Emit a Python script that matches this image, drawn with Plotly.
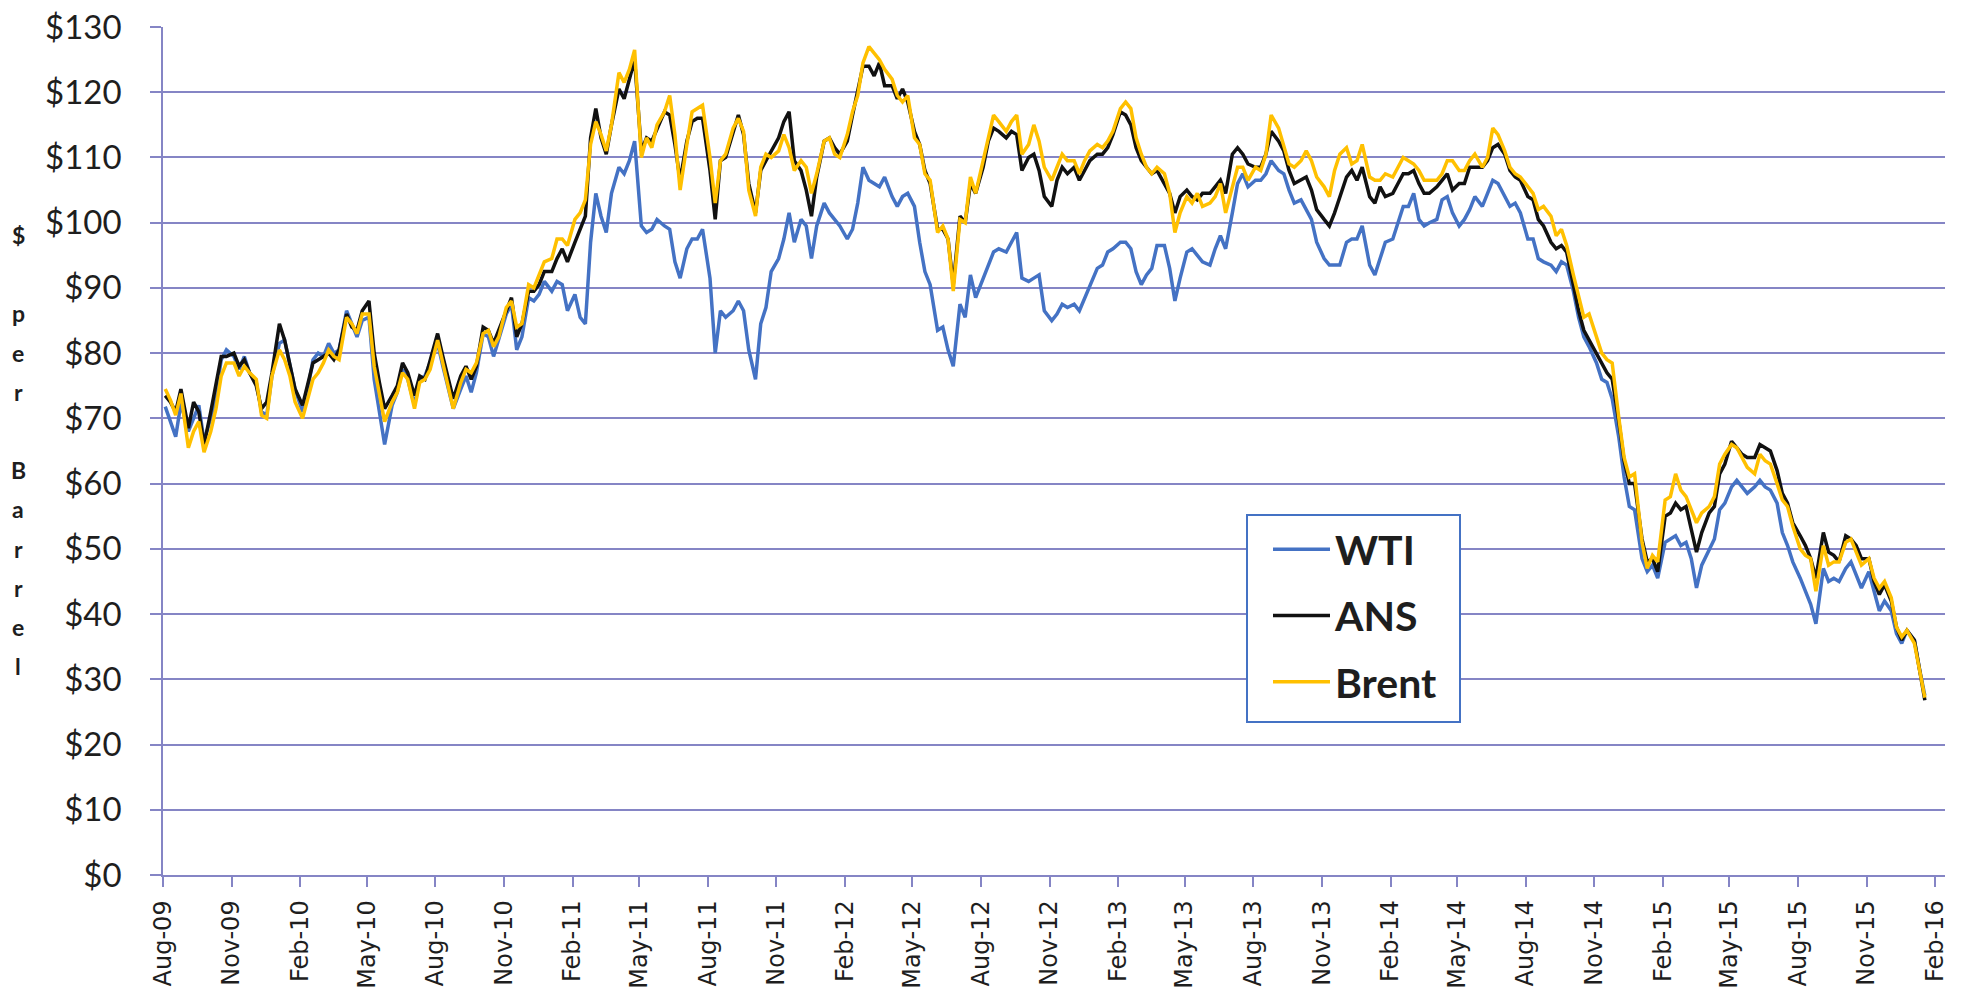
import pandas as pd
import plotly.graph_objects as go

# ---------------- data: weekly readings ($/barrel), one inner list per month
# (readings at roughly the 4th, 11th, 18th and 25th of each month)
wti_2009 = [[71.8, 69.5, 67.2, 72.3], [68.0, 70.0, 72.0, 66.5], [70.0, 73.5, 79.0, 80.5],
            [79.5, 77.5, 79.5, 77.0], [75.5, 71.0, 70.5, 76.5]]
wti_2010 = [[81.5, 82.0, 78.0, 74.5], [71.0, 74.5, 79.0, 80.0], [79.5, 81.5, 80.0, 80.5],
            [86.5, 84.5, 82.5, 85.0], [85.5, 76.0, 71.0, 66.0], [72.0, 74.0, 77.5, 76.0],
            [72.0, 76.0, 76.5, 78.5], [81.5, 78.0, 74.5, 71.5], [74.5, 76.5, 74.0, 77.0],
            [83.0, 82.5, 79.5, 82.0], [86.0, 87.5, 80.5, 82.5], [88.5, 88.0, 89.0, 91.0]]
wti_2011 = [[89.5, 91.0, 90.5, 86.5], [89.0, 85.5, 84.5, 97.0], [104.5, 101.0, 98.5, 104.5],
            [108.5, 107.5, 109.5, 112.5], [99.5, 98.5, 99.0, 100.5], [99.5, 99.0, 94.0, 91.5],
            [96.0, 97.5, 97.5, 99.0], [91.5, 80.0, 86.5, 85.5], [86.5, 88.0, 86.5, 80.5],
            [76.0, 84.5, 87.0, 92.5], [94.5, 97.5, 101.5, 97.0], [100.5, 99.5, 94.5, 99.5]]
wti_2012 = [[103.0, 101.5, 100.5, 99.5], [97.5, 99.0, 103.0, 108.5], [106.5, 106.0, 105.5, 107.0],
            [104.0, 102.5, 104.0, 104.5], [102.5, 97.0, 92.5, 90.5], [83.5, 84.0, 80.5, 78.0],
            [87.5, 85.5, 92.0, 88.5], [91.5, 93.5, 95.5, 96.0], [95.5, 97.0, 98.5, 91.5],
            [91.0, 91.5, 92.0, 86.5], [85.0, 86.0, 87.5, 87.0], [87.5, 86.5, 88.5, 90.5]]
wti_2013 = [[93.0, 93.5, 95.5, 96.0], [97.0, 97.0, 96.0, 92.5], [90.5, 92.0, 93.0, 96.5],
            [96.5, 93.0, 88.0, 91.5], [95.5, 96.0, 95.0, 94.0], [93.5, 96.0, 98.0, 96.0],
            [101.5, 106.0, 107.5, 105.5], [106.5, 106.5, 107.5, 109.5], [108.0, 107.5, 105.0, 103.0],
            [103.5, 102.0, 100.5, 97.0], [94.5, 93.5, 93.5, 93.5], [97.0, 97.5, 97.5, 99.5]]
wti_2014 = [[93.5, 92.0, 94.5, 97.0], [97.5, 100.0, 102.5, 102.5], [104.5, 100.5, 99.5, 100.0],
            [100.5, 103.5, 104.0, 101.5], [99.5, 100.5, 102.0, 104.0], [102.5, 104.5, 106.5, 106.0],
            [104.0, 102.5, 103.0, 101.5], [97.5, 97.5, 94.5, 94.0], [93.5, 92.5, 94.0, 93.5],
            [89.5, 85.5, 82.5, 81.0], [78.5, 76.0, 75.5, 73.0], [67.0, 61.0, 56.5, 56.0]]
wti_2015 = [[48.5, 46.5, 47.5, 45.5], [51.0, 51.5, 52.0, 50.5], [51.0, 48.5, 44.0, 47.5],
            [50.0, 51.5, 56.0, 57.0], [59.5, 60.5, 59.5, 58.5], [59.5, 60.5, 59.5, 59.0],
            [57.0, 52.5, 50.5, 48.0], [45.5, 43.5, 41.5, 38.5], [47.0, 45.0, 45.5, 45.0],
            [47.0, 48.0, 46.0, 44.0], [46.5, 43.5, 40.5, 42.0], [40.5, 37.0, 35.5, 37.5]]
wti_2016 = [[36.0, 31.5, 27.5]]

ans_2009 = [[73.5, 72.5, 71.0, 74.5], [68.5, 72.5, 71.0, 66.0], [71.0, 75.0, 79.5, 79.5],
            [80.0, 78.0, 79.0, 77.0], [75.0, 71.5, 72.5, 77.0]]
ans_2010 = [[84.5, 82.0, 78.5, 74.5], [72.0, 75.5, 78.5, 79.0], [79.5, 80.0, 79.0, 80.5],
            [86.0, 84.0, 83.5, 86.5], [88.0, 80.0, 75.5, 71.5], [73.5, 75.0, 78.5, 77.0],
            [73.5, 76.5, 76.0, 79.0], [83.0, 79.5, 76.0, 73.0], [76.5, 78.0, 76.0, 78.0],
            [84.0, 83.5, 81.5, 83.5], [86.5, 88.5, 82.5, 84.5], [89.5, 89.5, 90.5, 92.5]]
ans_2011 = [[92.5, 94.5, 96.0, 94.0], [97.0, 99.0, 101.0, 113.0], [117.5, 113.0, 110.5, 115.0],
            [120.5, 119.0, 122.0, 125.0], [111.0, 113.0, 112.5, 114.5], [117.0, 116.5, 112.0, 106.5],
            [112.5, 115.5, 116.0, 116.0], [108.0, 100.5, 109.5, 110.0], [114.0, 116.5, 113.5, 106.0],
            [101.5, 108.0, 109.5, 111.0], [113.0, 115.5, 117.0, 109.5], [108.0, 105.0, 101.0, 107.0]]
ans_2012 = [[112.5, 113.0, 111.5, 110.5], [112.5, 116.5, 120.5, 124.0], [124.0, 122.5, 124.5, 121.0],
            [121.0, 119.0, 120.5, 118.5], [114.0, 112.0, 108.0, 106.0], [99.0, 99.0, 97.5, 90.5],
            [101.0, 100.0, 106.0, 104.5], [108.5, 112.5, 114.5, 114.0], [113.0, 114.0, 113.5, 108.0],
            [110.0, 110.5, 108.0, 104.0], [102.5, 106.5, 108.5, 107.5], [108.5, 106.5, 108.0, 109.5]]
ans_2013 = [[110.5, 110.5, 111.5, 113.5], [117.0, 116.5, 115.0, 111.5], [109.5, 108.5, 107.5, 108.0],
            [106.0, 104.5, 101.5, 104.0], [105.0, 104.0, 103.5, 104.5], [104.5, 105.5, 106.5, 104.5],
            [110.5, 111.5, 110.5, 109.0], [108.5, 108.5, 110.5, 114.0], [112.5, 111.0, 108.0, 106.0],
            [106.5, 107.0, 105.0, 102.0], [100.5, 99.5, 101.5, 104.0], [107.0, 108.0, 106.5, 108.5]]
ans_2014 = [[104.0, 103.0, 105.5, 104.0], [104.5, 106.0, 107.5, 107.5], [108.0, 106.0, 104.5, 104.5],
            [105.5, 106.5, 107.5, 105.0], [106.0, 106.0, 108.5, 108.5], [108.5, 109.5, 111.5, 112.0],
            [110.5, 108.0, 107.0, 106.5], [104.0, 103.5, 100.5, 99.5], [97.0, 96.0, 96.5, 95.5],
            [90.5, 86.5, 83.5, 82.0], [80.0, 78.5, 77.0, 76.0], [69.5, 63.5, 60.0, 60.0]]
ans_2015 = [[51.5, 48.0, 48.5, 46.5], [55.0, 55.5, 57.0, 56.0], [56.5, 53.0, 49.5, 52.5],
            [55.5, 56.5, 61.5, 63.0], [66.5, 65.5, 64.5, 64.0], [64.0, 66.0, 65.5, 65.0],
            [62.0, 58.5, 57.0, 54.0], [52.0, 50.5, 48.5, 45.5], [52.5, 49.5, 49.0, 48.0],
            [52.0, 51.5, 50.5, 48.5], [48.5, 45.0, 43.0, 44.5], [42.0, 38.0, 36.0, 37.5]]
ans_2016 = [[36.0, 31.5, 26.8]]

brent_2009 = [[74.5, 72.8, 70.5, 73.8], [65.5, 68.0, 69.5, 64.8], [68.0, 71.5, 76.5, 78.5],
              [78.5, 76.5, 78.0, 77.0], [76.0, 70.5, 70.0, 76.5]]
brent_2010 = [[80.5, 79.0, 76.5, 72.5], [70.0, 73.0, 76.0, 77.0], [78.5, 80.5, 79.5, 79.0],
              [85.5, 84.5, 83.0, 86.0], [86.0, 78.0, 74.0, 69.5], [72.5, 74.0, 77.0, 76.0],
              [71.5, 75.5, 76.0, 77.5], [82.0, 78.5, 75.0, 71.5], [75.5, 77.5, 77.0, 78.5],
              [83.0, 83.5, 81.0, 82.5], [87.0, 88.0, 84.0, 84.5], [90.5, 90.0, 92.0, 94.0]]
brent_2011 = [[94.5, 97.5, 97.5, 96.5], [100.5, 101.5, 103.5, 112.0], [115.5, 113.5, 111.0, 115.0],
              [123.0, 121.5, 123.5, 126.5], [110.0, 113.0, 111.5, 115.0], [117.0, 119.5, 113.5, 105.0],
              [112.0, 117.0, 117.5, 118.0], [110.0, 103.0, 109.5, 110.5], [114.5, 116.0, 114.0, 105.0],
              [101.0, 108.5, 110.5, 110.0], [111.0, 113.5, 111.5, 108.0], [109.5, 108.5, 104.5, 107.5]]
brent_2012 = [[112.5, 113.0, 110.5, 110.0], [113.5, 117.0, 119.5, 124.5], [127.0, 126.0, 125.0, 123.5],
              [122.0, 119.5, 118.5, 119.5], [113.0, 112.0, 107.5, 106.5], [98.5, 99.5, 97.5, 89.5],
              [100.5, 100.0, 107.0, 104.5], [109.5, 113.5, 116.5, 115.5], [114.0, 115.5, 116.5, 110.5],
              [112.0, 115.0, 112.5, 108.5], [106.5, 108.5, 110.5, 109.5], [109.5, 107.5, 109.5, 111.0]]
brent_2013 = [[112.0, 111.5, 112.5, 114.0], [117.5, 118.5, 117.5, 113.0], [110.5, 108.5, 107.5, 108.5],
              [107.5, 104.5, 98.5, 101.5], [104.0, 103.0, 104.5, 102.5], [103.0, 104.0, 106.0, 101.5],
              [105.5, 108.5, 108.5, 106.5], [108.5, 108.0, 110.5, 116.5], [114.5, 111.5, 109.0, 108.5],
              [109.5, 111.0, 109.5, 107.0], [105.5, 104.0, 108.0, 110.5], [111.5, 109.0, 109.5, 112.0]]
brent_2014 = [[107.0, 106.5, 106.5, 107.5], [107.0, 108.5, 110.0, 109.5], [109.0, 108.0, 106.5, 106.5],
              [106.5, 107.5, 109.5, 109.5], [108.0, 108.0, 109.5, 110.5], [108.5, 110.0, 114.5, 113.5],
              [111.0, 108.5, 107.5, 107.0], [105.5, 104.5, 102.0, 102.5], [101.0, 98.0, 99.0, 96.5],
              [92.0, 88.5, 85.5, 86.0], [82.5, 80.0, 79.0, 78.5], [70.0, 64.0, 61.0, 61.5]]
brent_2015 = [[51.0, 47.0, 49.0, 48.0], [57.5, 58.0, 61.5, 59.0], [58.0, 56.0, 54.0, 55.5],
              [56.5, 58.0, 63.0, 64.5], [66.0, 65.5, 64.0, 62.5], [61.5, 64.5, 63.5, 63.0],
              [60.0, 57.5, 56.5, 53.5], [50.0, 49.0, 48.5, 43.5], [50.5, 47.5, 48.0, 48.0],
              [51.0, 51.5, 49.5, 47.5], [48.5, 45.5, 44.0, 45.0], [42.5, 38.0, 36.5, 37.5]]
brent_2016 = [[35.5, 31.0, 27.2]]

series_names = ["WTI", "ANS", "Brent"]
series_colors = ["#4472C4", "#111111", "#FFC000"]
years = [2009, 2010, 2011, 2012, 2013, 2014, 2015, 2016]
first_month = {2009: 8}

y_title_letters = ["$", "", "p", "e", "r", "", "B", "a", "r", "r", "e", "l"]


def flatten(year_blocks):
    xs, ys = [], []
    for year, months in zip(years, year_blocks):
        m0 = first_month.get(year, 1)
        for i, vals in enumerate(months):
            base = pd.Timestamp(year=year, month=m0 + i, day=1)
            for k, v in enumerate(vals):
                xs.append(base + pd.Timedelta(days=3 + 7 * k))
                ys.append(v)
    return xs, ys


blocks = {
    "WTI": [wti_2009, wti_2010, wti_2011, wti_2012, wti_2013, wti_2014, wti_2015, wti_2016],
    "ANS": [ans_2009, ans_2010, ans_2011, ans_2012, ans_2013, ans_2014, ans_2015, ans_2016],
    "Brent": [brent_2009, brent_2010, brent_2011, brent_2012, brent_2013, brent_2014, brent_2015, brent_2016],
}

GRID = "#8585C5"
TEXT = "#1e1e1e"
LEGEND_BORDER = "#4472C4"

fig = go.Figure()
for name, color in zip(series_names, series_colors):
    xs, ys = flatten(blocks[name])
    fig.add_trace(go.Scatter(x=xs, y=ys, mode="lines", name=name,
                             line=dict(color=color, width=3.5), legendgroup=name))

# layout geometry: target pixel positions in the 1969x1003 window
# (the html body margin is removed by a post script, so figure == window)
W, H = 1969, 1003
PLOT_L, PLOT_R, PLOT_T, PLOT_B = 163, 1945, 27, 875
L, T, R, B = PLOT_L, PLOT_T, W - PLOT_R, H - PLOT_B
plot_w, plot_h = PLOT_R - PLOT_L, PLOT_B - PLOT_T


def px_x(x):
    return (x - PLOT_L) / plot_w


def px_y(y):
    return (PLOT_B - y) / plot_h


annotations = []
for i, ch in enumerate(y_title_letters):
    if not ch:
        continue
    annotations.append(dict(
        text=ch, xref="paper", yref="paper",
        x=px_x(18), y=px_y(235 + i * 39.2),
        xanchor="center", yanchor="middle", showarrow=False,
        font=dict(family="Lato", size=23, color=TEXT, weight="bold")))

legend_box = dict(type="rect", xref="paper", yref="paper",
                  x0=px_x(1247), x1=px_x(1460), y0=px_y(722), y1=px_y(515),
                  line=dict(color=LEGEND_BORDER, width=2), fillcolor="white", layer="above")

fig.update_layout(
    width=W, height=H,
    margin=dict(l=L, r=R, t=T, b=B, autoexpand=False),
    plot_bgcolor="white", paper_bgcolor="white",
    showlegend=True,
    legend=dict(
        x=px_x(1268), y=px_y(516),
        xanchor="left", yanchor="top",
        bgcolor="rgba(0,0,0,0)", borderwidth=0,
        font=dict(family="Lato", size=41, color=TEXT, weight="bold"),
        tracegroupgap=10, traceorder="grouped", itemwidth=57,
    ),
    shapes=[legend_box],
    annotations=annotations,
    xaxis=dict(
        type="date", range=["2009-08-01", "2016-02-14"], automargin=False,
        tick0="2009-08-01", dtick="M3", tickformat="%b-%y", tickangle=-90,
        ticks="outside", ticklen=10, tickwidth=1.5, tickcolor=GRID,
        showline=True, linecolor=GRID, linewidth=1.5, showgrid=False, zeroline=False,
        tickfont=dict(family="DejaVu Sans", size=24, color=TEXT),
        ticklabelstandoff=4, ticklabeloverflow="allow",
    ),
    yaxis=dict(
        range=[0, 130], tick0=0, dtick=10, tickprefix="$", automargin=False,
        showgrid=True, gridcolor=GRID, gridwidth=1.5,
        ticks="outside", ticklen=11, tickwidth=1.5, tickcolor=GRID,
        showline=True, linecolor=GRID, linewidth=1.5, zeroline=False,
        tickfont=dict(family="Lato", size=33, color=TEXT),
        ticklabelstandoff=22, ticklabeloverflow="allow",
    ),
)

fig.write_html("out.html",
               config={"displayModeBar": False},
               post_script="document.body.style.margin='0';document.body.style.overflow='hidden';")
